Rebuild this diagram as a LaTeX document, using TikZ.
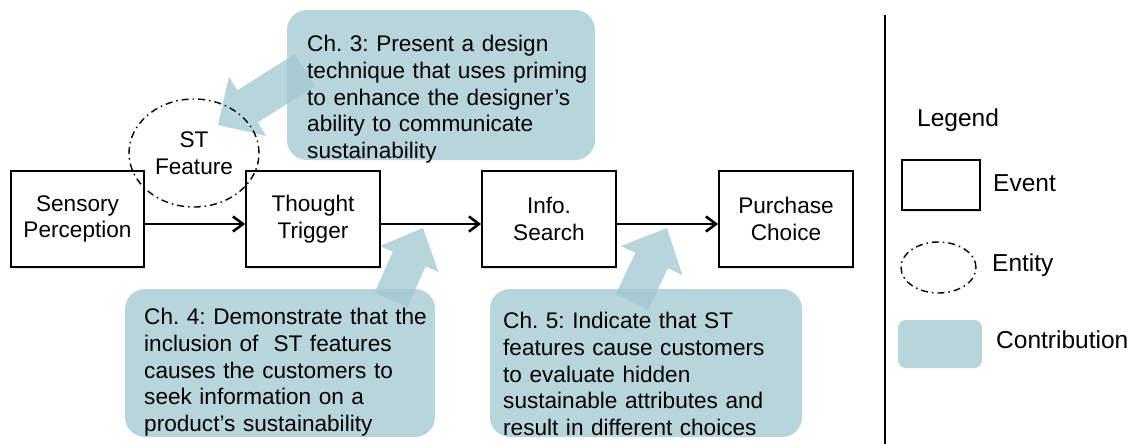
\documentclass[tikz,border=0pt]{standalone}
\usepackage{fontspec}
\setmainfont{Liberation Sans}
\usetikzlibrary{calc,arrows.meta,shadows,shapes.geometric}
\definecolor{contribc}{RGB}{162,199,208}
\frenchspacing
\tikzset{
  event/.style={draw=black, line width=1.8pt, fill=white, inner sep=0pt, align=center,
    font=\fontsize{22.6}{26.8}\selectfont,
    drop shadow={shadow xshift=1.2pt, shadow yshift=-2pt, opacity=0.22}},
  entity/.style={ellipse, draw=black, line width=1.4pt, inner sep=0pt, align=center,
    dash pattern=on 7pt off 4pt on 1.5pt off 4pt,
    font=\fontsize{22.6}{26.8}\selectfont},
  contribbox/.style={rounded corners=20pt, fill=contribc, fill opacity=0.75, inner sep=0pt},
  contrib/.style={fill=contribc, fill opacity=0.75},
  ctext/.style={inner sep=0pt, anchor=north west, align=left, text width=300pt,
    font=\fontsize{22.6}{26.8}\selectfont\frenchspacing},
  conn/.style={draw=black, line width=1.8pt, -{Straight Barb[length=10pt, width=15pt, line width=2.6pt]}},
  legtext/.style={inner sep=0pt, anchor=west, font=\fontsize{24.5}{28}\selectfont}
}
\newcommand\contribarrow[5]{%
  \coordinate (hb) at ($(#2)!#5!(#1)$);
  \fill[contrib] ($(#1)!#3!90:(#2)$) -- ($(hb)!#3!90:(#2)$) -- ($(hb)!#4!90:(#2)$) --
    (#2) -- ($(hb)!#4!-90:(#2)$) -- ($(hb)!#3!-90:(#2)$) -- ($(#1)!#3!-90:(#2)$) -- cycle;}
\begin{document}
\begin{tikzpicture}[x=1pt,y=-1pt]
\useasboundingbox (0,0) rectangle (1133,444);

% contribution boxes
\node[contribbox, minimum width=308pt, minimum height=150pt] (c3) at (441,85) {};
\node[contribbox, minimum width=310pt, minimum height=148pt] (c4) at (280,363) {};
\node[contribbox, minimum width=312pt, minimum height=148pt] (c5) at (646,363) {};

% contribution arrows
\coordinate (a3t) at (305,70);  \coordinate (a3p) at (218,125);
\coordinate (a4t) at (391,300); \coordinate (a4p) at (423,228);
\coordinate (a5t) at (632,302); \coordinate (a5p) at (667,228);
\contribarrow{a3t}{a3p}{19pt}{35pt}{35pt}
\contribarrow{a4t}{a4p}{18pt}{32pt}{34pt}
\contribarrow{a5t}{a5p}{18pt}{34pt}{36pt}

% contribution texts
\node[ctext] (c3t) at (307,35) {Ch. 3: Present a design\\technique that uses priming\\to enhance the designer’s\\ability to communicate\\sustainability};
\node[ctext] (c4t) at (144,308) {Ch. 4: Demonstrate that the\\inclusion of\ \ ST features\\causes the customers to\\seek information on a\\product’s sustainability};
\node[ctext] (c5t) at (503,312) {Ch. 5: Indicate that ST\\features cause customers\\to evaluate hidden\\sustainable attributes and\\result in different choices};

% events
\node[event, minimum width=133pt, minimum height=96pt] (sp) at (77.5,219) {Sensory\\Perception};
\node[event, minimum width=134pt, minimum height=96pt] (tt) at (313,219) {Thought\\Trigger};
\node[event, minimum width=134pt, minimum height=96pt] (is) at (549,219) {Info.\\Search};
\node[event, minimum width=134pt, minimum height=96pt] (pc) at (786,219) {Purchase\\Choice};

\draw[conn] ([yshift=-5pt]sp.east) -- ([yshift=-5pt]tt.west);
\draw[conn] ([yshift=-5pt]tt.east) -- ([yshift=-5pt]is.west);
\draw[conn] ([yshift=-5pt]is.east) -- ([yshift=-5pt]pc.west);

% entity
\node[entity, minimum width=130pt, minimum height=108pt] (st) at (194,153) {ST\\Feature};

% separator
\coordinate (sepT) at (885,15);
\coordinate (sepB) at (885,444);
\draw[line width=1.6pt] (sepT) -- (sepB);

% legend
\node[legtext] (lg) at (917,120) {Legend};
\node[event, minimum width=78pt, minimum height=50pt] (le) at (941,185) {};
\node[legtext] (let) at (993,183) {Event};
\node[entity, minimum width=75pt, minimum height=51pt] (len) at (938.5,267.5) {};
\node[legtext] (lent) at (992,265) {Entity};
\node[contribbox, rounded corners=8pt, minimum width=84pt, minimum height=48pt] (lc) at (940,344) {};
\node[legtext] (lct) at (996,340) {Contribution};
\end{tikzpicture}
\end{document}
